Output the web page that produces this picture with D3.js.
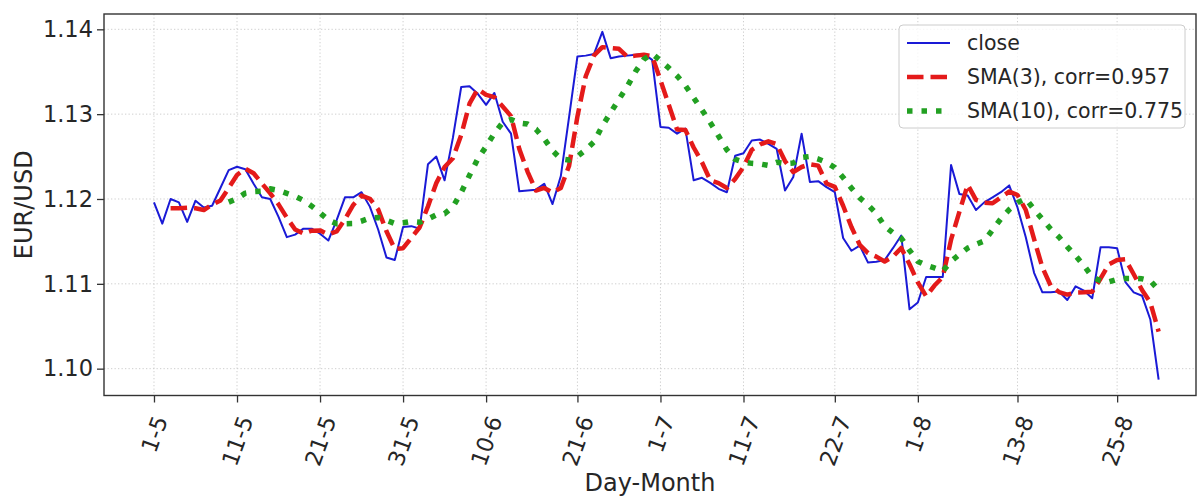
<!DOCTYPE html>
<html>
<head>
<meta charset="utf-8">
<script src="https://cdn.jsdelivr.net/npm/d3@7"></script>
<style>
  body { margin: 0; background: #fff; }
  svg { display: block; }
  text { font-family: "DejaVu Sans", sans-serif; fill: #262626; }
</style>
</head>
<body>
<div id="chart"></div>
<script>
const startDate = new Date(2019, 4, 1); // 1-5, one value per calendar day

const closeValues = [
  1.1196, 1.1171, 1.1200, 1.1196, 1.1173, 1.1198, 1.1190, 1.1192, 1.1213, 1.1234,
  1.1238, 1.1235, 1.1218, 1.1202, 1.1200, 1.1179, 1.1155, 1.1158, 1.1165, 1.1165,
  1.1159, 1.1151, 1.1175, 1.1202, 1.1202, 1.1208, 1.1191, 1.1164, 1.1131, 1.1128,
  1.1167, 1.1168, 1.1165, 1.1241, 1.1250, 1.1222, 1.1272, 1.1332, 1.1333, 1.1324,
  1.1311, 1.1325, 1.1291, 1.1277, 1.1209, 1.1210, 1.1211, 1.1218, 1.1194, 1.1227,
  1.1297, 1.1368, 1.1369, 1.1371, 1.1397, 1.1366, 1.1368, 1.1369, 1.1370, 1.1371,
  1.1364, 1.1285, 1.1284, 1.1277, 1.1283, 1.1222, 1.1225, 1.1219, 1.1212, 1.1208,
  1.1251, 1.1254, 1.1269, 1.1270, 1.1265, 1.1259, 1.1210, 1.1226, 1.1277, 1.1220,
  1.1221, 1.1214, 1.1208, 1.1154, 1.1139, 1.1145, 1.1125, 1.1126, 1.1128, 1.1142,
  1.1157, 1.1070, 1.1078, 1.1108, 1.1108, 1.1108, 1.1240, 1.1206, 1.1204, 1.1187,
  1.1196, 1.1202, 1.1208, 1.1216, 1.1190, 1.1155, 1.1113, 1.1090, 1.1090, 1.1091,
  1.1081, 1.1097, 1.1092, 1.1083, 1.1143, 1.1143, 1.1142, 1.1102, 1.1090, 1.1086,
  1.1058, 1.0987
];

const sma3Values = [
  null, null, 1.11890, 1.11890, 1.11897, 1.11890, 1.11870, 1.11933, 1.11983, 1.12130,
  1.12283, 1.12357, 1.12303, 1.12183, 1.12067, 1.11937, 1.11780, 1.11640, 1.11593, 1.11627,
  1.11630, 1.11583, 1.11617, 1.11760, 1.11930, 1.12040, 1.12003, 1.11877, 1.11620, 1.11410,
  1.11420, 1.11543, 1.11667, 1.11913, 1.12187, 1.12377, 1.12480, 1.12753, 1.13123, 1.13297,
  1.13227, 1.13200, 1.13090, 1.12977, 1.12590, 1.12320, 1.12100, 1.12130, 1.12077, 1.12130,
  1.12393, 1.12973, 1.13447, 1.13693, 1.13790, 1.13780, 1.13770, 1.13677, 1.13690, 1.13700,
  1.13683, 1.13400, 1.13110, 1.12820, 1.12813, 1.12607, 1.12433, 1.12220, 1.12187, 1.12130,
  1.12237, 1.12377, 1.12580, 1.12643, 1.12680, 1.12647, 1.12447, 1.12317, 1.12377, 1.12410,
  1.12393, 1.12183, 1.12143, 1.11920, 1.11670, 1.11460, 1.11363, 1.11320, 1.11263, 1.11320,
  1.11423, 1.11230, 1.11017, 1.10853, 1.10980, 1.11080, 1.11520, 1.11847, 1.12167, 1.11990,
  1.11957, 1.11950, 1.12020, 1.12087, 1.12047, 1.11870, 1.11527, 1.11193, 1.10977, 1.10903,
  1.10873, 1.10897, 1.10900, 1.10907, 1.11060, 1.11230, 1.11280, 1.11290, 1.11113, 1.10927,
  1.10780, 1.10437
];

const sma10Values = [
  null, null, null, null, null, null, null, null, null, 1.11963,
  1.12005, 1.12069, 1.12087, 1.12093, 1.12120, 1.12101, 1.12066, 1.12032, 1.11984, 1.11915,
  1.11836, 1.11752, 1.11709, 1.11709, 1.11711, 1.11740, 1.11776, 1.11782, 1.11748, 1.11711,
  1.11719, 1.11736, 1.11726, 1.11765, 1.11813, 1.11827, 1.11908, 1.12076, 1.12278, 1.12474,
  1.12618, 1.12775, 1.12901, 1.12937, 1.12896, 1.12884, 1.12823, 1.12709, 1.12570, 1.12473,
  1.12459, 1.12502, 1.12580, 1.12674, 1.12862, 1.13018, 1.13175, 1.13326, 1.13502, 1.13646,
  1.13713, 1.13630, 1.13545, 1.13451, 1.13337, 1.13193, 1.13050, 1.12900, 1.12742, 1.12579,
  1.12466, 1.12435, 1.12420, 1.12413, 1.12395, 1.12432, 1.12417, 1.12424, 1.12489, 1.12501,
  1.12471, 1.12431, 1.12370, 1.12254, 1.12128, 1.12014, 1.11929, 1.11829, 1.11680, 1.11602,
  1.11538, 1.11394, 1.11264, 1.11218, 1.11187, 1.11150, 1.11265, 1.11345, 1.11421, 1.11466,
  1.11505, 1.11637, 1.11767, 1.11875, 1.11957, 1.12004, 1.11877, 1.11761, 1.11647, 1.11551,
  1.11436, 1.11331, 1.11215, 1.11082, 1.11035, 1.11023, 1.11052, 1.11064, 1.11064, 1.11059,
  1.11036, 1.10926
];

const tickLabels = ["1-5", "11-5", "21-5", "31-5", "10-6", "21-6", "1-7", "11-7", "22-7", "1-8", "13-8", "25-8"];
const yTicks = [1.10, 1.11, 1.12, 1.13, 1.14];
const seriesNames = ["close", "SMA(3), corr=0.957", "SMA(10), corr=0.775"];

const width = 1197;
const height = 496;
const plot = { left: 104, right: 1196, top: 14, bottom: 395.5 };
const dayMs = 864e5;

const svg = d3
  .select("#chart")
  .append("svg")
  .attr("width", width)
  .attr("height", height);

const x = d3
  .scaleTime()
  .domain([new Date(+startDate - 6.02 * dayMs), new Date(+startDate + 125.5 * dayMs)])
  .range([plot.left, plot.right]);
const y = d3
  .scaleLinear()
  .domain([1.096836, 1.141806])
  .range([plot.bottom, plot.top]);

const dateAt = (i) => d3.timeDay.offset(startDate, i);
const tickDates = tickLabels.map((s) => {
  const [d, m] = s.split("-").map(Number);
  return new Date(2019, m - 1, d);
});

// grid
const grid = svg.append("g").attr("stroke", "#c9c9c9").attr("stroke-width", 0.9).attr("stroke-dasharray", "1.3,2.2");
grid.selectAll(".gx").data(tickDates).enter().append("line")
  .attr("x1", (d) => x(d)).attr("x2", (d) => x(d))
  .attr("y1", plot.top).attr("y2", plot.bottom);
grid.selectAll(".gy").data(yTicks).enter().append("line")
  .attr("x1", plot.left).attr("x2", plot.right)
  .attr("y1", (d) => y(d)).attr("y2", (d) => y(d));

// lines
const line = d3
  .line()
  .defined((d) => d != null)
  .x((d, i) => x(dateAt(i)))
  .y((d) => y(d));

const styles = [
  { color: "#1a1ad6", width: 2, dash: null },
  { color: "#e41a1a", width: 4.5, dash: "16.5,7" },
  { color: "#22a022", width: 5.5, dash: "5.5,9" },
];
[closeValues, sma3Values, sma10Values].forEach((vals, k) => {
  svg.append("path")
    .datum(vals)
    .attr("d", line)
    .attr("fill", "none")
    .attr("stroke", styles[k].color)
    .attr("stroke-width", styles[k].width)
    .attr("stroke-dasharray", styles[k].dash)
    .attr("stroke-linejoin", "round");
});

// axes
const yAxis = svg.append("g")
  .attr("transform", `translate(${plot.left},0)`)
  .call(d3.axisLeft(y).tickValues(yTicks).tickFormat(d3.format(".2f")).tickSize(7).tickPadding(4));
yAxis.select(".domain").remove();
yAxis.selectAll("line").attr("stroke", "#333").attr("stroke-width", 1.3);
yAxis.selectAll("text").style("font-size", "22.5px").attr("fill", "#262626");

const xAxis = svg.append("g")
  .attr("transform", `translate(0,${plot.bottom})`)
  .call(d3.axisBottom(x).tickValues(tickDates).tickSize(7).tickFormat((d, i) => tickLabels[i]));
xAxis.select(".domain").remove();
xAxis.selectAll("line").attr("stroke", "#333").attr("stroke-width", 1.3);
xAxis.selectAll("text")
  .style("font-size", "22.5px")
  .attr("fill", "#262626")
  .attr("text-anchor", "middle")
  .attr("y", 0)
  .attr("dy", "0.35em")
  .attr("transform", function () {
    const L = this.getComputedTextLength();
    const cy = 17.5 + (L * 0.94 + 22 * 0.342) / 2;
    return `translate(0,${cy}) rotate(-70)`;
  });

// spines
svg.append("rect")
  .attr("x", plot.left).attr("y", plot.top)
  .attr("width", plot.right - plot.left).attr("height", plot.bottom - plot.top)
  .attr("fill", "none").attr("stroke", "#333").attr("stroke-width", 1.4);

// axis labels
svg.append("text")
  .attr("x", (plot.left + plot.right) / 2).attr("y", 491)
  .attr("text-anchor", "middle").style("font-size", "24px")
  .text("Day-Month");
svg.append("text")
  .attr("transform", `translate(32,${(plot.top + plot.bottom) / 2}) rotate(-90)`)
  .attr("text-anchor", "middle").style("font-size", "24px")
  .text("EUR/USD");

// legend
const legend = svg.append("g").attr("transform", "translate(899,25)");
legend.append("rect")
  .attr("width", 286).attr("height", 103).attr("rx", 4)
  .attr("fill", "#fff").attr("fill-opacity", 0.8)
  .attr("stroke", "#cccccc").attr("stroke-width", 1);
seriesNames.forEach((name, k) => {
  const ry = 18 + k * 34;
  legend.append("line")
    .attr("x1", 8).attr("x2", 51).attr("y1", ry).attr("y2", ry)
    .attr("stroke", styles[k].color).attr("stroke-width", styles[k].width)
    .attr("stroke-dasharray", styles[k].dash);
  legend.append("text")
    .attr("x", 68).attr("y", ry).attr("dy", "0.35em")
    .style("font-size", "20.5px")
    .text(name);
});
</script>
</body>
</html>
